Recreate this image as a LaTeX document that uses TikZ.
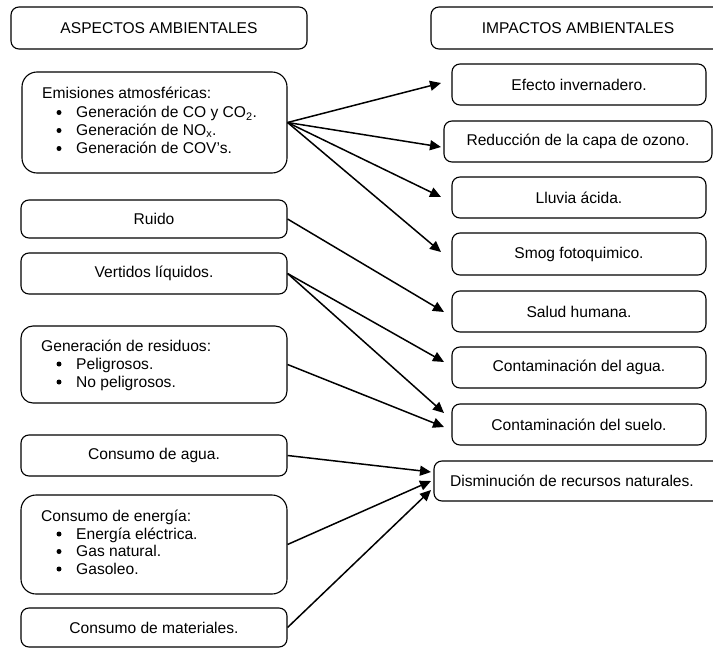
\documentclass[tikz,border=0pt]{standalone}
\usepackage{fontspec}
\setmainfont{Liberation Sans}
\usetikzlibrary{arrows.meta}
\begin{document}
\begin{tikzpicture}[x=1pt,y=-1pt,
  font=\fontsize{15.6}{18.3}\selectfont,
  box/.style={draw, line width=1.1pt, rounded corners=8pt, inner sep=0pt},
  bigbox/.style={box, rounded corners=15pt},
  txt/.style={inner sep=0pt, anchor=base west},
  dot/.style={circle, fill=black, inner sep=0pt, minimum size=5pt},
  link/.style={line width=1.5pt, -{Triangle[length=11pt,width=10pt]}}]
\useasboundingbox (0,0) rectangle (713,648);
\clip (0,0) rectangle (713,648);

% column headers
\node[box, minimum width=296pt, minimum height=42pt] (aspectos) at (159,28) {ASPECTOS AMBIENTALES};
\node[box, minimum width=294pt, minimum height=42pt] (impactos) at (578,28) {IMPACTOS AMBIENTALES};

% environmental aspects
\node[bigbox, minimum width=265pt, minimum height=101pt] (emis) at (154.5,122.5) {};
\node[txt] (emisT) at (42,98) {Emisiones atmosféricas:};
\node[dot] (emisB1) at (59,112.5) {};
\node[txt] (emisI1) at (76,117.5) {Generación de CO y CO\textsubscript{2}.};
\node[dot] (emisB2) at (59,130.5) {};
\node[txt] (emisI2) at (76,135.5) {Generación de NO\textsubscript{x}.};
\node[dot] (emisB3) at (59,148.5) {};
\node[txt] (emisI3) at (76,153.5) {Generación de COV’s.};

\node[box, minimum width=266pt, minimum height=38pt] (ruido) at (154,219) {Ruido};
\node[box, minimum width=266pt, minimum height=41pt] (vert) at (154,273.5) {Vertidos líquidos.};

\node[bigbox, rounded corners=12pt, minimum width=266pt, minimum height=77pt] (resid) at (154,364.5) {};
\node[txt] (residT) at (41,351) {Generación de residuos:};
\node[dot] (residB1) at (59,364) {};
\node[txt] (residI1) at (76,369) {Peligrosos.};
\node[dot] (residB2) at (59,382) {};
\node[txt] (residI2) at (76,387) {No peligrosos.};

\node[box, minimum width=266pt, minimum height=41pt] (agua) at (154,455.5) {Consumo de agua.};

\node[bigbox, minimum width=266pt, minimum height=99pt] (energ) at (154,544.5) {};
\node[txt] (energT) at (41,521) {Consumo de energía:};
\node[dot] (energB1) at (59,534) {};
\node[txt] (energI1) at (76,539) {Energía eléctrica.};
\node[dot] (energB2) at (59,551.5) {};
\node[txt] (energI2) at (76,556.5) {Gas natural.};
\node[dot] (energB3) at (59,569) {};
\node[txt] (energI3) at (76,574) {Gasoleo.};

\node[box, minimum width=266pt, minimum height=39pt] (mat) at (154,627.5) {Consumo de materiales.};

% environmental impacts
\node[box, minimum width=254pt, minimum height=41pt] (efecto) at (579,84.5) {Efecto invernadero.};
\node[box, minimum width=268pt, minimum height=41pt] (reduc) at (578,141.5) {Reducción de la capa de ozono.};
\node[box, minimum width=254pt, minimum height=41pt] (lluvia) at (579,197.5) {Lluvia ácida.};
\node[box, minimum width=254pt, minimum height=42pt] (smog) at (579,254) {Smog fotoquimico.};
\node[box, minimum width=254pt, minimum height=41pt] (salud) at (579,311.5) {Salud humana.};
\node[box, minimum width=254pt, minimum height=41pt] (cagua) at (579,367.5) {Contaminación del agua.};
\node[box, minimum width=254pt, minimum height=41pt] (suelo) at (579,424.5) {Contaminación del suelo.};
\node[box, minimum width=290pt, minimum height=40pt] (dism) at (579,481) {};
\node[inner sep=0pt] (dismT) at (572,481) {Disminución de recursos naturales.};

% arrow tips, a little short of each impact box
\coordinate (tEfecto) at (441,83);
\coordinate (tReduc) at (441,147);
\coordinate (tLluvia) at (441,197);
\coordinate (tSmog) at (441,252);
\coordinate (tSalud) at (444,312);
\coordinate (tCagua) at (444,362);
\coordinate (tSuelo1) at (444,413);
\coordinate (tSuelo2) at (444,427);
\coordinate (tDism1) at (431,472);
\coordinate (tDism2) at (431,481);
\coordinate (tDism3) at (431,490);

% connectors
\draw[link] (emis.east) -- (tEfecto);
\draw[link] (emis.east) -- (tReduc);
\draw[link] (emis.east) -- (tLluvia);
\draw[link] (emis.east) -- (tSmog);
\draw[link] (ruido.east) -- (tSalud);
\draw[link] (vert.east) -- (tCagua);
\draw[link] (vert.east) -- (tSuelo1);
\draw[link] (resid.east) -- (tSuelo2);
\draw[link] (agua.east) -- (tDism1);
\draw[link] (energ.east) -- (tDism2);
\draw[link] (mat.east) -- (tDism3);
\end{tikzpicture}
\end{document}
